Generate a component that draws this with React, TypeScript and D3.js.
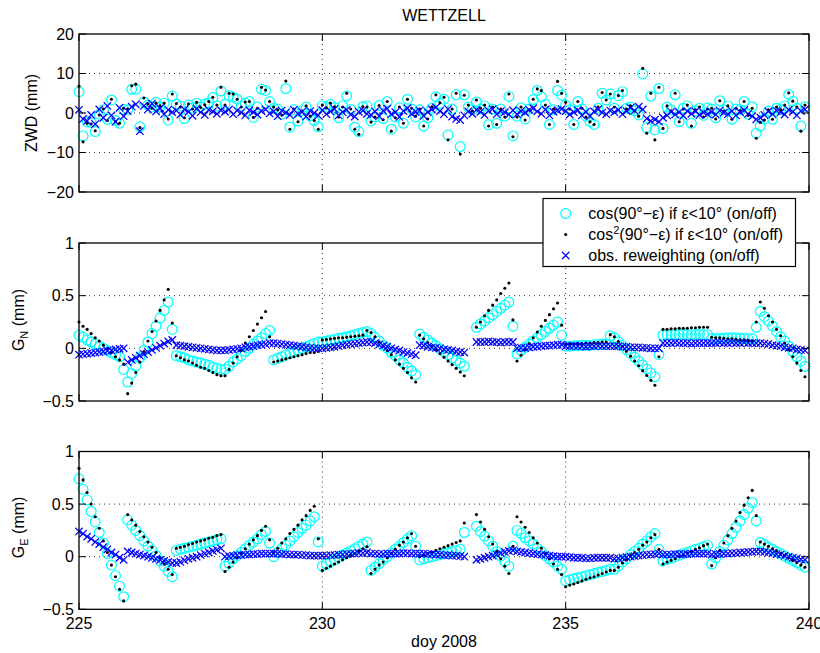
import React from 'react';
import * as d3 from 'd3';

// ---------------- DATA (2-hourly epochs, day-of-year 2008) ----------------
const X_TICKS = [225, 230, 235, 240];
const ZWD_TICKS = [-20, -10, 0, 10, 20];
const G_TICKS = [-0.5, 0, 0.5, 1];
const TITLE = 'WETTZELL';
const X_LABEL = 'doy 2008';
const LEGEND = ['cos(90°−ε) if ε<10° (on/off)', 'cos2(90°−ε) if ε<10° (on/off)', 'obs. reweighting (on/off)'];

// ZWD differences (mm)
const ZWD_COS = [
  5.4,-5.8,-2.2,-2.4,-4.7,-0.3,0.8,-1.6,3.3,-1.9,-2.6,0.9,
  0.8,6.0,6.0,-3.5,2.8,2.0,1.5,2.7,1.5,2.5,-1.8,4.3,
  2.2,1.8,-1.4,2.0,1.3,2.5,1.6,2.3,2.6,3.9,1.8,5.6,
  2.2,4.4,4.0,3.5,1.8,2.5,2.9,-1.1,1.5,6.0,5.7,2.9,
  1.2,1.0,-0.3,6.2,-3.6,0.8,-2.0,0.6,1.5,-0.7,-1.9,-3.5,
  1.8,1.5,2.2,1.4,-1.2,1.8,4.3,0.9,-3.6,-4.7,1.6,1.8,
  -2.0,-1.0,1.9,-1.4,2.9,-4.1,-1.0,1.3,-2.6,3.5,1.0,-1.0,
  0.8,-3.3,-1.2,1.2,4.1,2.4,3.5,-5.6,1.0,4.6,-8.5,4.6,
  1.5,0.8,2.8,1.0,1.8,-3.0,1.0,-2.6,1.0,-0.8,4.2,-5.8,
  -0.8,1.3,-1.5,1.0,3.4,5.7,4.1,2.2,-2.9,0.8,5.7,4.5,
  2.0,0.8,-2.9,2.9,1.0,-0.8,-2.2,-2.9,1.2,5.0,3.3,4.8,
  1.2,4.4,5.4,1.2,1.5,0.6,-0.5,9.9,-3.7,4.3,-4.3,6.2,
  -3.9,1.5,0.8,4.6,-2.2,1.2,1.8,-2.6,0.5,1.2,-0.6,1.3,
  1.0,-1.2,3.1,0.8,1.8,-1.6,1.0,0.8,2.9,-0.3,1.6,-5.1,
  -3.3,-1.5,0.5,-1.6,1.2,0.8,1.8,4.7,3.0,1.2,-3.3,1.6,
];
const ZWD_COS2 = [
  6.8,-7.3,-2.6,-2.8,-4.5,-0.5,1.0,-1.9,3.5,-2.2,-2.6,1.2,
  1.0,6.9,7.3,-3.7,3.8,2.3,1.2,2.5,1.8,2.5,-1.5,4.8,
  2.4,1.5,-1.2,2.3,1.0,2.7,1.4,2.1,2.9,4.0,2.0,6.5,
  2.0,5.0,4.8,3.5,1.5,2.8,2.9,-1.1,1.2,6.5,5.8,2.9,
  1.5,0.8,-0.5,8.1,-4.1,1.0,-2.2,0.5,1.8,-0.8,-1.9,-4.1,
  2.0,1.3,2.5,1.6,-1.0,1.5,5.0,1.0,-4.1,-5.4,1.6,1.5,
  -2.3,-1.0,1.9,-1.7,2.9,-4.6,-1.2,1.5,-2.6,3.5,1.2,-0.8,
  1.0,-3.3,-1.5,1.6,4.6,2.6,4.0,-6.8,1.0,5.0,-10.4,4.5,
  2.0,0.5,3.3,1.2,2.0,-3.3,1.5,-2.9,1.0,-1.0,4.8,-6.0,
  -1.0,1.5,-1.8,0.8,3.5,6.1,5.7,2.0,-2.9,1.0,8.0,5.0,
  2.7,1.0,-2.9,2.9,1.2,-1.0,-2.2,-2.9,1.5,5.2,3.3,4.8,
  1.5,4.4,5.7,1.0,1.8,0.5,-0.8,11.3,-5.1,5.0,-6.8,6.5,
  -3.9,1.8,0.5,5.0,-2.2,1.0,2.0,-3.3,0.8,1.5,-1.0,1.0,
  1.2,-1.5,3.1,0.5,1.8,-1.6,1.2,0.6,2.9,-0.6,1.2,-6.4,
  -2.4,-1.8,0.8,-1.6,1.5,0.8,2.0,5.1,3.0,1.5,-4.6,2.0,
];
const ZWD_REW = [
  0.8,-1.5,-2.0,-0.5,-2.8,0.9,-1.2,1.8,-0.6,-2.2,1.3,-0.8,
  0.5,1.6,2.2,-4.6,1.8,0.9,2.4,0.4,1.2,-0.3,0.8,0.2,
  0.6,-0.4,0.9,0.3,-0.7,1.1,0.2,-0.5,0.8,0.4,-0.2,0.7,
  0.3,0.9,-0.3,0.6,0.1,-0.6,0.7,0.2,-0.4,0.5,0.9,-0.1,
  0.4,-0.8,0.6,0.1,-0.5,0.8,-0.2,0.3,-0.9,0.5,0.0,-0.6,
  0.7,-0.3,0.4,1.0,-0.6,0.2,0.8,-0.4,-0.9,0.3,0.6,-0.2,
  -0.5,0.4,-0.8,0.6,1.1,-0.3,0.2,-1.0,0.5,1.2,-0.2,0.3,
  0.6,-0.7,0.2,0.9,1.4,0.5,-0.3,1.0,-0.9,-1.5,-1.8,-0.6,
  0.4,-0.2,0.8,0.3,-0.5,0.6,1.0,-0.3,0.5,0.2,-0.4,0.7,
  -0.3,0.5,0.1,0.8,1.2,0.4,-0.2,0.9,-0.6,0.3,0.7,1.0,
  0.5,-0.4,0.2,0.7,-0.6,0.3,-0.8,0.4,0.9,0.1,-0.3,0.6,
  0.2,0.8,-0.3,0.5,1.3,0.6,1.6,0.9,-1.4,-2.0,-1.7,-2.2,
  -1.2,-0.6,0.3,-0.4,0.2,-0.7,0.5,-0.2,0.4,-0.5,0.1,-0.3,
  0.3,-0.4,0.6,0.1,-0.3,0.5,-0.6,0.2,0.7,-0.2,-0.8,-1.6,
  -1.2,-0.5,0.4,-0.3,0.6,0.2,-0.4,0.8,0.3,-0.6,0.5,0.9,
];

// North gradient differences (mm)
const GN_COS = [
  0.125,0.105,0.08,0.06,0.04,0.02,0.0,-0.02,-0.04,-0.06,-0.08,-0.2,
  -0.32,-0.24,-0.17,-0.09,-0.02,0.06,0.14,0.21,0.29,0.36,0.44,0.18,
  -0.07,-0.08,-0.09,-0.11,-0.12,-0.13,-0.14,-0.15,-0.16,-0.18,-0.19,-0.2,
  -0.2,-0.17,-0.13,-0.1,-0.07,-0.03,0.0,0.04,0.07,0.1,0.14,0.17,
  -0.11,-0.095,-0.08,-0.06,-0.05,-0.03,-0.02,0.0,0.015,0.03,0.045,0.06,
  0.06,0.07,0.08,0.085,0.095,0.1,0.11,0.12,0.13,0.14,0.15,0.16,
  0.14,0.105,0.07,0.03,0.0,-0.04,-0.07,-0.11,-0.14,-0.18,-0.215,-0.25,
  0.135,0.105,0.08,0.05,0.025,-0.005,-0.03,-0.06,-0.09,-0.115,-0.14,-0.17,
  null,null,0.2,0.23,0.26,0.29,0.32,0.35,0.38,0.41,0.44,0.21,
  -0.05,-0.02,0.01,0.04,0.07,0.1,0.13,0.16,0.19,0.22,0.25,0.125,
  0.02,0.02,0.025,0.025,0.03,0.03,0.03,0.035,0.035,0.04,0.04,0.12,
  0.1,0.063,0.026,-0.011,-0.048,-0.085,-0.122,-0.159,-0.196,-0.233,-0.27,-0.06,
  0.125,0.13,0.13,0.13,0.13,0.135,0.13,0.13,0.13,0.135,0.13,0.13,
  0.09,0.09,0.095,0.095,0.1,0.1,0.1,0.095,0.095,0.09,0.09,0.2,
  0.35,0.3,0.26,0.21,0.16,0.11,0.07,0.02,-0.03,-0.08,-0.12,-0.17,
];
const GN_COS2 = [
  0.25,0.21,0.18,0.14,0.10,0.07,0.03,0.00,-0.04,-0.08,-0.11,-0.15,
  -0.43,-0.33,-0.23,-0.13,-0.03,0.07,0.16,0.26,0.36,0.46,0.56,0.24,
  -0.07,-0.09,-0.11,-0.12,-0.14,-0.16,-0.18,-0.19,-0.21,-0.23,-0.25,-0.26,
  -0.26,-0.20,-0.14,-0.08,-0.02,0.05,0.11,0.17,0.23,0.29,0.35,0.11,
  -0.13,-0.12,-0.11,-0.10,-0.09,-0.08,-0.07,-0.06,-0.05,-0.04,-0.04,-0.03,
  0.08,0.085,0.09,0.095,0.10,0.10,0.105,0.11,0.115,0.12,0.125,0.17,
  0.15,0.11,0.06,0.02,-0.02,-0.06,-0.11,-0.15,-0.19,-0.23,-0.28,-0.32,
  0.125,0.09,0.055,0.02,-0.015,-0.05,-0.085,-0.12,-0.155,-0.19,-0.225,-0.26,
  null,null,0.20,0.25,0.31,0.36,0.41,0.46,0.52,0.57,0.62,0.27,
  -0.12,-0.065,-0.01,0.045,0.10,0.155,0.21,0.265,0.32,0.375,0.43,0.22,
  0.04,0.04,0.04,0.045,0.045,0.05,0.05,0.055,0.055,0.06,0.06,0.13,
  0.11,0.064,0.018,-0.028,-0.074,-0.12,-0.166,-0.212,-0.258,-0.304,-0.35,-0.08,
  0.18,0.18,0.185,0.185,0.19,0.19,0.19,0.195,0.195,0.2,0.2,0.2,
  0.105,0.1,0.1,0.095,0.09,0.09,0.085,0.08,0.08,0.075,0.07,0.25,
  0.44,0.38,0.31,0.25,0.18,0.12,0.05,-0.01,-0.08,-0.14,-0.21,-0.27,
];
const GN_REW = [
  -0.06,-0.055,-0.05,-0.045,-0.04,-0.035,-0.03,-0.025,-0.02,-0.01,-0.005,0.0,
  -0.13,-0.11,-0.09,-0.07,-0.055,-0.035,-0.015,0.005,0.025,0.045,0.065,0.08,
  0.03,0.025,0.02,0.015,0.01,0.005,0.0,-0.005,-0.01,-0.015,-0.02,-0.02,
  -0.02,-0.015,-0.01,-0.005,0.0,0.01,0.015,0.02,0.03,0.035,0.04,0.05,
  0.05,0.045,0.04,0.035,0.03,0.025,0.02,0.015,0.01,0.005,0.0,0.0,
  0.0,0.005,0.01,0.015,0.02,0.03,0.035,0.04,0.045,0.05,0.055,0.06,
  0.06,0.05,0.035,0.025,0.015,0.0,-0.01,-0.02,-0.035,-0.045,-0.055,-0.065,
  0.03,0.025,0.015,0.01,0.005,0.0,-0.01,-0.015,-0.02,-0.03,-0.035,-0.04,
  null,null,0.06,0.06,0.06,0.065,0.06,0.06,0.055,0.06,0.06,0.06,
  0.0,0.005,0.005,0.01,0.015,0.015,0.02,0.025,0.025,0.03,0.035,0.035,
  0.02,0.02,0.025,0.02,0.02,0.015,0.02,0.02,0.025,0.02,0.02,0.02,
  0.02,0.02,0.015,0.015,0.01,0.01,0.01,0.005,0.005,0.0,0.0,0.0,
  0.05,0.05,0.05,0.055,0.05,0.05,0.05,0.045,0.05,0.05,0.05,0.05,
  0.05,0.05,0.055,0.05,0.05,0.055,0.05,0.05,0.055,0.05,0.05,0.05,
  0.05,0.045,0.04,0.03,0.025,0.02,0.01,0.005,0.0,-0.01,-0.015,-0.02,
];

// East gradient differences (mm)
const GE_COS = [
  0.74,0.64,0.54,0.43,0.33,0.23,0.13,0.03,-0.08,-0.18,-0.28,-0.38,
  0.35,0.30,0.25,0.20,0.15,0.10,0.06,0.01,-0.04,-0.09,-0.14,-0.19,
  0.06,0.07,0.08,0.09,0.1,0.11,0.12,0.13,0.14,0.15,0.16,0.17,
  -0.09,-0.06,-0.02,0.01,0.04,0.075,0.11,0.14,0.17,0.21,0.24,0.13,
  0.0,0.04,0.08,0.11,0.15,0.19,0.23,0.27,0.3,0.34,0.38,0.14,
  -0.09,-0.07,-0.05,-0.03,-0.005,0.015,0.035,0.055,0.075,0.1,0.12,0.14,
  -0.13,-0.1,-0.065,-0.03,0.0,0.035,0.07,0.1,0.135,0.17,0.2,0.1,
  -0.03,-0.02,-0.01,0.0,0.01,0.02,0.03,0.04,0.05,0.06,0.07,0.23,
  null,null,0.29,0.24,0.195,0.15,0.1,0.05,0.005,-0.045,-0.09,0.1,
  0.25,0.22,0.18,0.15,0.12,0.08,0.05,0.01,-0.02,-0.05,-0.09,-0.12,
  -0.23,-0.22,-0.21,-0.2,-0.19,-0.18,-0.17,-0.16,-0.15,-0.14,-0.13,-0.12,
  -0.12,-0.09,-0.05,-0.02,0.02,0.05,0.08,0.12,0.15,0.19,0.22,0.07,
  -0.04,-0.025,-0.015,0.0,0.015,0.03,0.04,0.055,0.07,0.08,0.095,0.11,
  -0.07,-0.01,0.05,0.11,0.16,0.22,0.28,0.34,0.4,0.46,0.515,0.34,
  0.135,0.115,0.09,0.07,0.05,0.03,0.005,-0.015,-0.035,-0.055,-0.08,-0.1,
];
const GE_COS2 = [
  0.84,0.73,0.61,0.50,0.38,0.27,0.15,0.04,-0.08,-0.19,-0.31,-0.42,
  0.40,0.35,0.30,0.24,0.19,0.14,0.09,0.04,-0.01,-0.07,-0.12,-0.17,
  0.08,0.09,0.10,0.115,0.125,0.14,0.15,0.16,0.175,0.185,0.2,0.21,
  -0.14,-0.10,-0.05,-0.01,0.03,0.075,0.12,0.16,0.20,0.25,0.29,0.16,
  0.04,0.08,0.13,0.17,0.22,0.26,0.30,0.35,0.39,0.44,0.48,0.17,
  -0.13,-0.11,-0.09,-0.07,-0.05,-0.03,-0.01,0.01,0.03,0.055,0.075,0.095,
  -0.16,-0.12,-0.08,-0.05,-0.01,0.03,0.07,0.11,0.14,0.18,0.22,0.1,
  0.0,0.015,0.03,0.045,0.06,0.075,0.09,0.105,0.12,0.135,0.15,0.32,
  null,null,0.40,0.33,0.26,0.19,0.12,0.05,-0.02,-0.09,-0.16,0.1,
  0.38,0.33,0.28,0.23,0.18,0.13,0.08,0.03,-0.02,-0.07,-0.12,-0.17,
  -0.285,-0.27,-0.26,-0.245,-0.23,-0.215,-0.2,-0.19,-0.175,-0.16,-0.145,-0.13,
  -0.13,-0.1,-0.06,-0.03,0.01,0.04,0.07,0.11,0.14,0.18,0.21,0.07,
  -0.07,-0.05,-0.035,-0.02,0.0,0.015,0.035,0.05,0.07,0.085,0.105,0.12,
  -0.085,-0.01,0.06,0.13,0.2,0.27,0.34,0.42,0.49,0.56,0.63,0.39,
  0.14,0.12,0.1,0.075,0.055,0.03,0.01,-0.01,-0.035,-0.055,-0.08,-0.1,
];
const GE_REW = [
  0.24,0.22,0.19,0.17,0.14,0.12,0.09,0.07,0.04,0.02,-0.01,-0.03,
  0.05,0.04,0.03,0.02,0.01,0.0,-0.01,-0.02,-0.03,-0.04,-0.05,-0.06,
  -0.06,-0.05,-0.035,-0.02,-0.01,0.0,0.015,0.03,0.04,0.055,0.065,0.08,
  0.0,0.005,0.01,0.015,0.015,0.02,0.02,0.025,0.025,0.03,0.03,0.03,
  0.03,0.03,0.025,0.025,0.02,0.02,0.02,0.015,0.015,0.01,0.01,0.01,
  0.01,0.01,0.015,0.015,0.02,0.02,0.025,0.03,0.03,0.035,0.035,0.04,
  0.03,0.03,0.025,0.025,0.03,0.03,0.03,0.03,0.035,0.035,0.03,0.03,
  0.03,0.03,0.025,0.025,0.02,0.02,0.015,0.015,0.01,0.01,0.005,0.0,
  null,null,-0.03,-0.02,-0.01,0.0,0.01,0.02,0.035,0.045,0.055,0.06,
  0.05,0.045,0.04,0.035,0.03,0.025,0.02,0.015,0.01,0.005,0.0,0.0,
  0.0,-0.005,-0.01,-0.01,-0.01,-0.015,-0.015,-0.01,-0.01,-0.01,-0.01,-0.01,
  -0.02,-0.015,-0.01,-0.005,0.0,0.005,0.01,0.015,0.02,0.02,0.025,0.03,
  0.02,0.02,0.02,0.025,0.025,0.025,0.025,0.03,0.03,0.03,0.03,0.03,
  0.02,0.025,0.025,0.03,0.03,0.035,0.035,0.04,0.04,0.045,0.045,0.05,
  0.05,0.045,0.04,0.035,0.025,0.02,0.01,0.0,-0.01,-0.015,-0.025,-0.03,
];

// epoch grid: every 2 hours from doy 225.0
const EPOCHS = d3.range(ZWD_COS.length).map((i) => 225 + i / 12);

// ---------------- LAYOUT / STYLE ----------------
const FONT = "'Liberation Sans', Arial, Helvetica, sans-serif";
const FS = 16;
const LEFT = 79;
const RIGHT = 809;
const CYAN = '#00FFFF';
const BLUE = '#0000FF';

const x = d3.scaleLinear().domain([225, 240]).range([LEFT, RIGHT]);

const fmt = (v: number) => String(v).replace('-', '\u2212');

type Series = (number | null)[];

function Markers({ y, cos, cos2, rew }: { y: d3.ScaleLinear<number, number>; cos: Series; cos2: Series; rew: Series }) {
  const pts = (s: Series) =>
    s.map((v, i) => (v == null ? null : [x(EPOCHS[i]), y(v)])).filter(Boolean) as [number, number][];
  const s = 3.7;
  const crossPath = pts(rew)
    .map(([px, py]) => `M${px - s},${py - s}L${px + s},${py + s}M${px - s},${py + s}L${px + s},${py - s}`)
    .join('');
  return (
    <g>
      {pts(cos).map(([px, py], i) => (
        <circle key={'c' + i} cx={px} cy={py} r={4.9} fill="none" stroke={CYAN} strokeWidth={1.2} />
      ))}
      {pts(cos2).map(([px, py], i) => (
        <circle key={'d' + i} cx={px} cy={py} r={1.55} fill="#000" />
      ))}
      <path d={crossPath} stroke={BLUE} strokeWidth={1.25} fill="none" />
    </g>
  );
}

function Panel({
  top,
  bottom,
  domain,
  ticks,
  cos,
  cos2,
  rew,
  showX,
}: {
  top: number;
  bottom: number;
  domain: [number, number];
  ticks: number[];
  cos: Series;
  cos2: Series;
  rew: Series;
  showX: boolean;
}) {
  const y = d3.scaleLinear().domain(domain).range([bottom, top]);
  const tl = 7;
  return (
    <g>
      {ticks
        .filter((t) => t !== domain[0] && t !== domain[1])
        .map((t) => (
          <line key={'gy' + t} x1={LEFT} x2={RIGHT} y1={y(t)} y2={y(t)} stroke="#000" strokeWidth={0.8} strokeDasharray="1 4" />
        ))}
      {X_TICKS.filter((t) => t !== 225 && t !== 240).map((t) => (
        <line key={'gx' + t} x1={x(t)} x2={x(t)} y1={top} y2={bottom} stroke="#000" strokeWidth={0.8} strokeDasharray="1 4" />
      ))}
      <Markers y={y} cos={cos} cos2={cos2} rew={rew} />
      {ticks.map((t) => (
        <g key={'ty' + t}>
          <line x1={LEFT} x2={LEFT + tl} y1={y(t)} y2={y(t)} stroke="#000" />
          <line x1={RIGHT} x2={RIGHT - tl} y1={y(t)} y2={y(t)} stroke="#000" />
          <text x={LEFT - 5} y={y(t)} dy="0.35em" textAnchor="end" fontSize={FS} fontFamily={FONT}>
            {fmt(t)}
          </text>
        </g>
      ))}
      {X_TICKS.map((t) => (
        <g key={'tx' + t}>
          <line x1={x(t)} x2={x(t)} y1={bottom} y2={bottom - tl} stroke="#000" />
          <line x1={x(t)} x2={x(t)} y1={top} y2={top + tl} stroke="#000" />
          {showX && (
            <text x={x(t)} y={bottom + 19.5} textAnchor="middle" fontSize={FS} fontFamily={FONT}>
              {t}
            </text>
          )}
        </g>
      ))}
      <rect x={LEFT} y={top} width={RIGHT - LEFT} height={bottom - top} fill="none" stroke="#000" strokeWidth={1.3} />
    </g>
  );
}

export default function App() {
  const P1 = { top: 34, bottom: 192 };
  const P2 = { top: 243, bottom: 401 };
  const P3 = { top: 451.5, bottom: 609.3 };
  const lx = 543;
  const ly = 198.5;
  return (
    <svg
      width={820}
      height={653}
      style={{ position: 'absolute', left: 0, top: 0, background: '#fff' }}
      fontFamily={FONT}
    >
      <rect x={0} y={0} width={820} height={653} fill="#fff" />
      <text x={(LEFT + RIGHT) / 2} y={20.5} textAnchor="middle" fontSize={FS}>
        {TITLE}
      </text>

      <Panel {...P1} domain={[-20, 20]} ticks={ZWD_TICKS} cos={ZWD_COS} cos2={ZWD_COS2} rew={ZWD_REW} showX={false} />
      <Panel {...P2} domain={[-0.5, 1]} ticks={G_TICKS} cos={GN_COS} cos2={GN_COS2} rew={GN_REW} showX={false} />
      <Panel {...P3} domain={[-0.5, 1]} ticks={G_TICKS} cos={GE_COS} cos2={GE_COS2} rew={GE_REW} showX={true} />

      <text transform={`translate(37,${(P1.top + P1.bottom) / 2}) rotate(-90)`} textAnchor="middle" fontSize={FS}>
        ZWD (mm)
      </text>
      <text transform={`translate(23.5,${(P2.top + P2.bottom) / 2 - 2}) rotate(-90)`} textAnchor="middle" fontSize={FS}>
        G<tspan fontSize={11} dy={4}>N</tspan>
        <tspan dy={-4}> (mm)</tspan>
      </text>
      <text transform={`translate(23.5,${(P3.top + P3.bottom) / 2 - 3}) rotate(-90)`} textAnchor="middle" fontSize={FS}>
        G<tspan fontSize={11} dy={4}>E</tspan>
        <tspan dy={-4}> (mm)</tspan>
      </text>

      <text x={(LEFT + RIGHT) / 2} y={647} textAnchor="middle" fontSize={FS}>
        {X_LABEL}
      </text>

      <g>
        <rect x={lx} y={ly} width={252.5} height={68} fill="#fff" stroke="#000" strokeWidth={1.2} />
        <circle cx={565.7} cy={213.5} r={4.9} fill="none" stroke={CYAN} strokeWidth={1.2} />
        <text x={588.3} y={218.5} fontSize={FS}>
          {LEGEND[0]}
        </text>
        <circle cx={565.7} cy={234.5} r={1.55} fill="#000" />
        <text x={588.3} y={239.5} fontSize={FS}>
          cos<tspan fontSize={11} dy={-6}>2</tspan>
          <tspan dy={6}>{LEGEND[1].slice(4)}</tspan>
        </text>
        <path d="M562,251.8L569.4,259.2M562,259.2L569.4,251.8" stroke={BLUE} strokeWidth={1.25} />
        <text x={588.3} y={260.5} fontSize={FS}>
          {LEGEND[2]}
        </text>
      </g>
    </svg>
  );
}
